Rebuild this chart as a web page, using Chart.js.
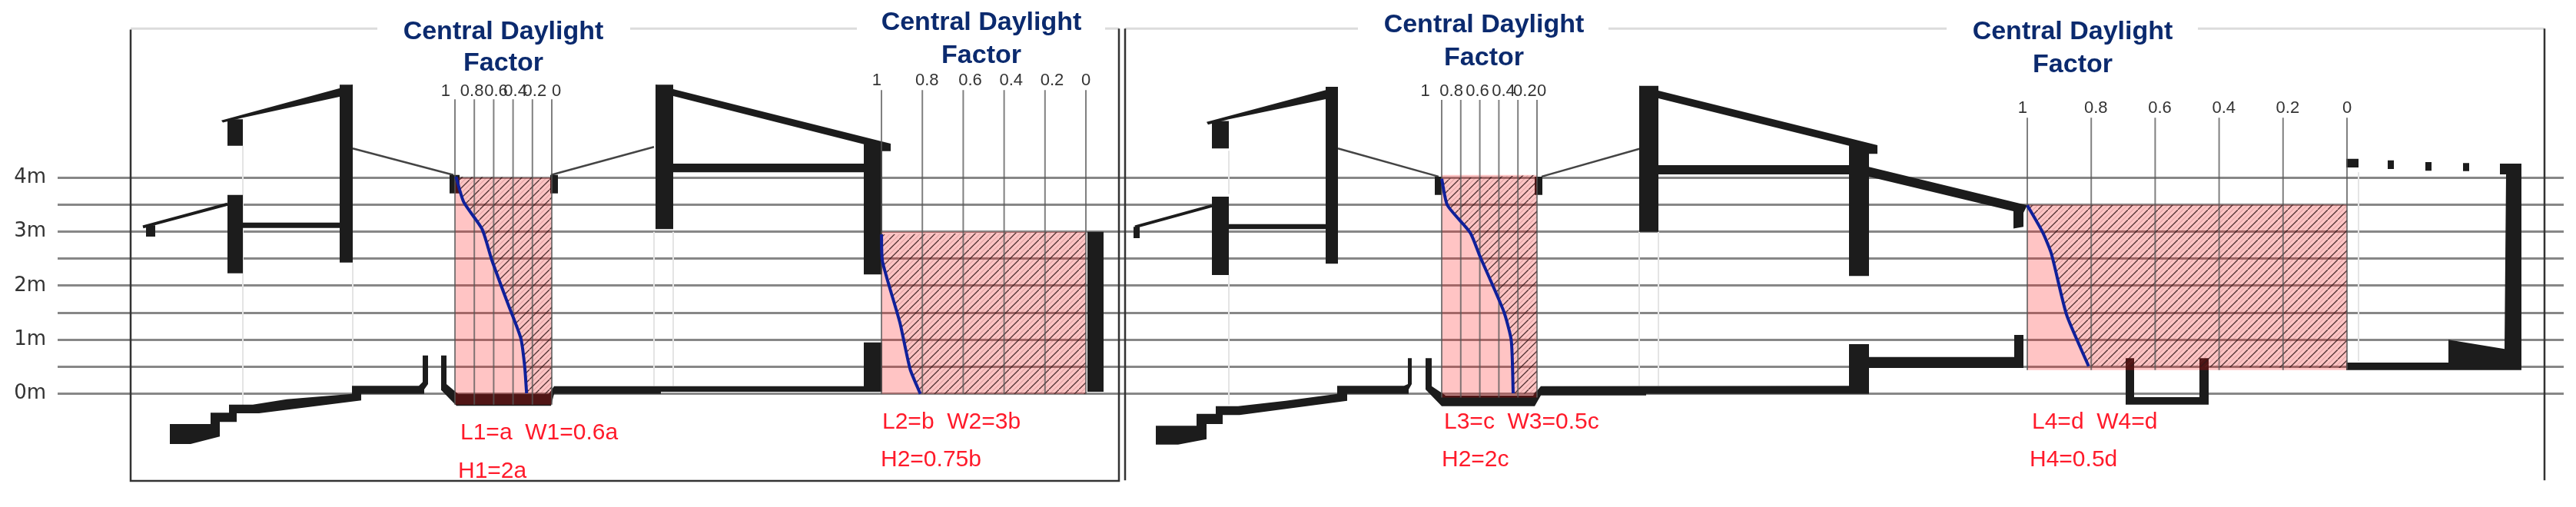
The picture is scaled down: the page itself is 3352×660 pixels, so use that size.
<!DOCTYPE html>
<html>
<head>
<meta charset="utf-8">
<title>Central Daylight Factor</title>
<script src="https://cdn.jsdelivr.net/npm/chart.js@4"></script>
<style>
  html, body { margin: 0; padding: 0; background: #fff; }
  canvas { display: block; }
</style>
</head>
<body>
<canvas id="chart" width="3352" height="660"></canvas>
<script>
// height levels of the section (metres), every half metre
const heightLevels = [0, 0.5, 1, 1.5, 2, 2.5, 3, 3.5, 4];
const heightLabels = ['0m', '', '1m', '', '2m', '', '3m', '', '4m'];

// daylight factor axis of each room
const dfTicks = [1, 0.8, 0.6, 0.4, 0.2, 0];
const dfRoomNames = ['df1', 'df2', 'df3', 'df4'];
const dfFullAt = [592, 1147, 1876, 2638]; // drawing x where DF = 1
const dfZeroAt = [718, 1413, 2000, 3054]; // drawing x where DF = 0
const dfLabelLevel = [5.78, 5.98, 5.78, 5.47];
const dfLineTop = [5.45, 5.62, 5.44, 5.11];
// tick text sits a little off its line in the drawing: spaces before (+) or after (-)
const dfLabelShift = [
  [-4, -1, 1, 1, 1, 2],
  [-2, 2, 3, 3, 3, 0],
  [-7, -4, -1, 2, 3, 2],
  [-2, 2, 2, 2, 2, 0]
];

// room height range (metres)
const roomTop = [4.0, 3.0, 4.05, 3.5];
const roomBottom = [-0.2, 0, -0.07, 0.44];
const hatchBottom = [0, 0, 0, 0.48];

// central daylight factor curves
const room1Df = [0.99, 0.91, 0.72, 0.62, 0.46, 0.32, 0.28, 0.26];
const room1H = [4.02, 3.55, 3.05, 2.48, 1.70, 1.03, 0.51, 0.01];
const room2Df = [1, 0.995, 0.91, 0.86, 0.81];
const room2H = [2.95, 2.45, 1.32, 0.46, 0];
const room3Df = [1, 0.94, 0.70, 0.60, 0.35, 0.27, 0.25];
const room3H = [3.98, 3.49, 2.98, 2.55, 1.53, 0.99, 0.01];
const room4Df = [1, 0.952, 0.925, 0.877, 0.808];
const room4H = [3.49, 2.99, 2.60, 1.46, 0.51];

// texts
const titleLines = ['Central Daylight', 'Factor'];
const roomNotes = [
  ['L1=a  W1=0.6a', 'H1=2a'],
  ['L2=b  W2=3b', 'H2=0.75b'],
  ['L3=c  W3=0.5c', 'H2=2c'],
  ['L4=d  W4=d', 'H4=0.5d']
];
const titleX = [655, 1277, 1931, 2697];
const titleH = [[6.69, 6.11], [6.86, 6.25], [6.83, 6.22], [6.69, 6.08]];
const noteX = [[599, 596], [1148, 1146], [1879, 1876], [2644, 2641]];
const noteH = [[-0.72, -1.43], [-0.52, -1.23], [-0.53, -1.23], [-0.53, -1.23]];

// building section outlines, [drawing x, height in metres]
const solidsA = [
  [[288, 5.06], [459, 5.72], [459, 5.55], [316, 5.11], [290, 5.02]],
  [[442, 5.72], [459, 5.72], [459, 2.43], [442, 2.43]],
  [[296, 5.08], [316, 5.08], [316, 4.59], [296, 4.59]],
  [[296, 3.68], [316, 3.68], [316, 2.23], [296, 2.23]],
  [[316, 3.17], [442, 3.17], [442, 3.07], [316, 3.07]],
  [[190, 3.12], [202, 3.12], [202, 2.91], [190, 2.91]],
  [[585, 4.05], [598, 4.05], [598, 3.71], [585, 3.71]],
  [[716, 4.05], [726, 4.05], [726, 3.71], [716, 3.71]],
  [[574, 0.71], [581, 0.71], [581, 0.18], [596, 0], [714, 0], [721, 0.14], [1124, 0.14], [1124, 0.04], [860, 0.04], [860, 0], [721, 0], [717, -0.22], [594, -0.22], [574, 0.07]],
  [[458, 0.15], [545, 0.15], [550, 0.22], [550, 0.71], [557, 0.71], [557, 0.18], [552, 0.08], [552, 0], [470, 0], [470, -0.12], [337, -0.36], [308, -0.36], [308, -0.52], [286, -0.52], [286, -0.79], [248, -0.93], [221, -0.93], [221, -0.56], [274, -0.56], [274, -0.35], [298, -0.35], [298, -0.2], [329, -0.2], [373, -0.1], [458, 0]],
  [[853, 5.72], [1159, 4.63], [1159, 4.49], [1148, 4.49], [1124, 4.62], [876, 5.51], [853, 5.51]],
  [[853, 5.72], [876, 5.72], [876, 3.05], [853, 3.05]],
  [[1124, 4.62], [1148, 4.62], [1148, 2.21], [1124, 2.21]],
  [[1124, 0.95], [1148, 0.95], [1148, 0.04], [1124, 0.04]],
  [[876, 4.26], [1124, 4.26], [1124, 4.10], [876, 4.10]],
  [[1415, 3.0], [1436, 3.0], [1436, 0.04], [1415, 0.04]]
];
const solidsB = [
  [[1570, 5.03], [1741, 5.68], [1741, 5.5], [1599, 5.08], [1572, 4.98]],
  [[1725, 5.68], [1741, 5.68], [1741, 2.41], [1725, 2.41]],
  [[1577, 5.05], [1599, 5.05], [1599, 4.54], [1577, 4.54]],
  [[1577, 3.65], [1599, 3.65], [1599, 2.2], [1577, 2.2]],
  [[1599, 3.14], [1725, 3.14], [1725, 3.05], [1599, 3.05]],
  [[1475, 3.09], [1483, 3.09], [1483, 2.88], [1475, 2.88]],
  [[1867, 4.02], [1876, 4.02], [1876, 3.68], [1867, 3.68]],
  [[1997, 4.02], [2007, 4.02], [2007, 3.68], [1997, 3.68]],
  [[1855, 0.66], [1863, 0.66], [1863, 0.14], [1881, -0.03], [1995, -0.03], [2005, 0.14], [2406, 0.15], [2406, 0], [2142, 0], [2142, -0.03], [2005, -0.03], [1997, -0.23], [1876, -0.23], [1855, 0.08]],
  [[1740, 0.15], [1827, 0.15], [1832, 0.18], [1832, 0.66], [1837, 0.66], [1837, 0.18], [1833, 0.08], [1833, 0], [1753, 0], [1753, -0.13], [1613, -0.39], [1591, -0.39], [1591, -0.56], [1570, -0.56], [1570, -0.84], [1533, -0.94], [1504, -0.94], [1504, -0.59], [1557, -0.59], [1557, -0.37], [1582, -0.37], [1582, -0.23], [1611, -0.23], [1673, -0.13], [1740, 0]],
  [[2133, 5.70], [2443, 4.6], [2443, 4.44], [2430, 4.44], [2406, 4.59], [2158, 5.47], [2133, 5.47]],
  [[2133, 5.70], [2158, 5.70], [2158, 3.0], [2133, 3.0]],
  [[2406, 4.6], [2432, 4.6], [2432, 2.18], [2406, 2.18]],
  [[2406, 0.92], [2432, 0.92], [2432, 0], [2406, 0]],
  [[2158, 4.23], [2406, 4.23], [2406, 4.06], [2158, 4.06]],
  [[2432, 4.2], [2638, 3.49], [2633, 3.35], [2633, 3.09], [2620, 3.06], [2620, 3.38], [2432, 4.02]],
  [[2430, 0.68], [2621, 0.68], [2621, 1.09], [2633, 1.09], [2633, 0.48], [2430, 0.48]],
  [[2766, 0.66], [2777, 0.66], [2777, -0.06], [2862, -0.06], [2862, 0.66], [2874, 0.66], [2874, -0.2], [2766, -0.2]],
  [[3053, 0.58], [3186, 0.58], [3186, 1.0], [3259, 0.83], [3261, 4.06], [3253, 4.06], [3253, 4.26], [3281, 4.26], [3281, 0.44], [3053, 0.44]],
  [[3053, 4.35], [3069, 4.35], [3069, 4.19], [3053, 4.19]],
  [[3107, 4.32], [3115, 4.32], [3115, 4.16], [3107, 4.16]],
  [[3156, 4.29], [3164, 4.29], [3164, 4.13], [3156, 4.13]],
  [[3205, 4.27], [3213, 4.27], [3213, 4.12], [3205, 4.12]]
];
const thinRoofs = [
  [[186, 3.09], [296, 3.51]],
  [[1477, 3.09], [1577, 3.48]]
];
const skylightLines = [
  [[459, 4.54], [590, 4.05]],
  [[717, 4.05], [851, 4.57]],
  [[1741, 4.54], [1872, 4.02]],
  [[2006, 4.02], [2135, 4.54]]
];
const frameDark = [
  [[170, 6.74], [170, -1.61], [1456, -1.61], [1456, 6.76]],
  [[1464, 6.76], [1464, -1.6]],
  [[3311, 6.76], [3311, -1.6]]
];
const frameLight = [
  [[170, 6.76], [491, 6.76]],
  [[820, 6.76], [1115, 6.76]],
  [[1438, 6.76], [1456, 6.76]],
  [[1464, 6.76], [1767, 6.76]],
  [[2093, 6.76], [2533, 6.76]],
  [[2860, 6.76], [3311, 6.76]]
];
const faintLines = [
  [[316, 4.59], [316, -0.3]],
  [[459, 2.43], [459, 0.15]],
  [[851, 3.0], [851, 0.15]],
  [[876, 3.0], [876, 0.15]],
  [[1599, 4.5], [1599, 3.7]],
  [[1599, 2.2], [1599, -0.2]],
  [[2133, 3.0], [2133, 0.15]],
  [[2158, 3.0], [2158, 0.15]],
  [[3069, 4.1], [3069, 0.6]]
];

const BLACK = '#1c1c1c';

function toPoints(list) {
  return list.map(p => ({ x: p[0], y: p[1] }));
}

function makeHatch() {
  const size = 13;
  const tile = document.createElement('canvas');
  tile.width = size;
  tile.height = size;
  const c = tile.getContext('2d');
  c.strokeStyle = 'rgba(50,25,25,0.85)';
  c.lineWidth = 1.3;
  c.beginPath();
  c.moveTo(-1, size + 1);
  c.lineTo(size + 1, -1);
  c.stroke();
  c.strokeStyle = 'rgba(120,70,70,0.35)';
  c.lineWidth = 1;
  c.beginPath();
  c.moveTo(-1, size / 2 + 1);
  c.lineTo(size / 2 + 1, -1);
  c.moveTo(size / 2 - 1, size + 1);
  c.lineTo(size + 1, size / 2 - 1);
  c.stroke();
  return c.createPattern(tile, 'repeat');
}

const hatch = makeHatch();
const curvesDf = [room1Df, room2Df, room3Df, room4Df];
const curvesH = [room1H, room2H, room3H, room4H];

// datasets are listed bottom layer first
const layers = [];

function addShape(points, color, xAxisID) {
  layers.push({
    data: points, xAxisID: xAxisID || 'x', showLine: true, fill: 'shape',
    backgroundColor: color, borderWidth: 0, pointRadius: 0, tension: 0
  });
}

function addLine(points, color, width, xAxisID, tension) {
  layers.push({
    data: points, xAxisID: xAxisID || 'x', showLine: true, fill: false,
    borderColor: color, borderWidth: width, pointRadius: 0, tension: tension || 0,
    borderCapStyle: 'butt'
  });
}

faintLines.forEach(l => addLine(toPoints(l), '#e4e4e4', 2));
frameLight.forEach(l => addLine(toPoints(l), '#dcdcdc', 3));
frameDark.forEach(l => addLine(toPoints(l), '#333333', 2.5));
skylightLines.forEach(l => addLine(toPoints(l), '#444444', 2.5));
thinRoofs.forEach(l => addLine(toPoints(l), BLACK, 4));
solidsA.forEach(s => addShape(toPoints(s), BLACK));
solidsB.forEach(s => addShape(toPoints(s), BLACK));

dfRoomNames.forEach((axis, i) => {
  // pink room
  addShape([
    { x: 1, y: roomTop[i] }, { x: 0, y: roomTop[i] },
    { x: 0, y: roomBottom[i] }, { x: 1, y: roomBottom[i] }
  ], 'rgba(255,0,0,0.23)', axis);

  // hatched part, from the curve to the DF = 0 side
  const curve = curvesDf[i].map((df, k) => ({ x: df, y: curvesH[i][k] }));
  addShape(curve.concat([
    { x: 0, y: hatchBottom[i] }, { x: 0, y: roomTop[i] }
  ]), hatch, axis);

  dfTicks.forEach(t => {
    addLine([{ x: t, y: dfLineTop[i] }, { x: t, y: roomBottom[i] }], 'rgba(85,85,85,0.75)', 2, axis);
  });

  addLine(curve, '#10209a', 4, axis, 0.2);
});

// titles and room notes, placed through the scales
const textPlugin = {
  id: 'sectionText',
  afterDatasetsDraw(chart) {
    const c = chart.ctx;
    const xs = chart.scales.x;
    const ys = chart.scales.y;
    c.save();
    c.textBaseline = 'middle';
    c.textAlign = 'center';
    c.fillStyle = '#0b2a6e';
    c.font = 'bold 34px "Liberation Sans", Arial, sans-serif';
    titleX.forEach((x, i) => {
      titleLines.forEach((line, k) => {
        c.fillText(line, xs.getPixelForValue(x), ys.getPixelForValue(titleH[i][k]));
      });
    });
    c.textAlign = 'left';
    c.fillStyle = '#ff1a2a';
    c.font = '30px "Liberation Sans", Arial, sans-serif';
    roomNotes.forEach((note, i) => {
      note.forEach((line, k) => {
        c.fillText(line, xs.getPixelForValue(noteX[i][k]), ys.getPixelForValue(noteH[i][k]));
      });
    });
    c.restore();
  }
};

// axes must not claim any room: the plot fills the whole page
function noMargins(axis) {
  axis.paddingTop = 0;
  axis.paddingBottom = 0;
  axis.paddingLeft = 0;
  axis.paddingRight = 0;
}

const scales = {
  x: { type: 'linear', display: false, min: 75, max: 3336 },
  y: {
    type: 'linear',
    min: -2.094,
    max: 7.288,
    border: { display: false },
    grid: { color: 'rgba(105,105,105,0.8)', lineWidth: 3, drawTicks: false },
    afterBuildTicks: axis => { axis.ticks = heightLevels.map(v => ({ value: v })); },
    afterFit: axis => { axis.width = 75; noMargins(axis); },
    ticks: {
      autoSkip: false,
      padding: 15,
      color: '#333333',
      font: { family: '"DejaVu Sans"', size: 26 },
      callback: value => heightLabels[heightLevels.indexOf(value)]
    }
  }
};

// one daylight factor axis per room, stretched over the full drawing width
dfRoomNames.forEach((name, i) => {
  const span = dfZeroAt[i] - dfFullAt[i];
  scales[name] = {
    type: 'linear',
    axis: 'x',
    reverse: true,
    position: { y: dfLabelLevel[i] },
    min: (dfZeroAt[i] - 3336) / span,
    max: (dfZeroAt[i] - 75) / span,
    border: { display: false },
    grid: { display: false, drawTicks: false },
    afterBuildTicks: axis => { axis.ticks = dfTicks.map(v => ({ value: v })); },
    afterFit: axis => { axis.height = 0; noMargins(axis); },
    ticks: {
      autoSkip: false,
      maxRotation: 0,
      minRotation: 0,
      padding: 0,
      color: '#333333',
      font: { family: '"Liberation Sans Narrow", "Liberation Sans"', size: 22 },
      callback: value => {
        const shift = dfLabelShift[i][dfTicks.indexOf(value)];
        const pad = ' '.repeat(Math.abs(shift));
        return shift > 0 ? pad + value : value + pad;
      }
    }
  };
});

new Chart(document.getElementById('chart'), {
  type: 'scatter',
  data: { datasets: layers.map((d, i) => Object.assign(d, { order: layers.length - i })) },
  options: {
    responsive: false,
    animation: false,
    devicePixelRatio: 1,
    layout: { padding: { left: 0, right: 16, top: 0, bottom: 0 } },
    plugins: { legend: { display: false }, tooltip: { enabled: false }, title: { display: false } },
    scales: scales
  },
  plugins: [textPlugin]
});
</script>
</body>
</html>
